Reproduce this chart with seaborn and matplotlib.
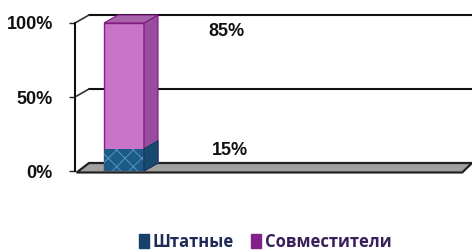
import numpy as np
import pandas as pd
import seaborn as sns
import matplotlib.pyplot as plt
from matplotlib.patches import Polygon, Patch

sns.set_theme(style="white")
plt.rcParams['font.family'] = ['Liberation Sans', 'DejaVu Sans']
plt.rcParams['hatch.linewidth'] = 0.8

# data
categories = ["Кадры"]
shtatnye = [15]
sovmestiteli = [85]
ticks = [0, 50, 100]
tick_labels = ["0%", "50%", "100%"]

df = pd.DataFrame({"cat": categories,
                   "Штатные": shtatnye,
                   "Совместители": sovmestiteli})
df["total"] = df["Штатные"] + df["Совместители"]

W, H = 472, 252
fig = plt.figure(figsize=(W / 100, H / 100), dpi=100)
ax = fig.add_axes([75 / W, (H - 171) / H, 397 / W, 148 / H])

purple_front = "#c874c8"
purple_side = "#9a4c9e"
purple_top = "#a862ac"
blue_front = "#1d5a86"
blue_side = "#164a70"

sns.barplot(data=df, x="cat", y="total", color=purple_front, width=0.5,
            saturation=1, ax=ax, edgecolor="#8b1a8b", linewidth=1)
sns.barplot(data=df, x="cat", y="Штатные", color=blue_front, width=0.5,
            saturation=1, ax=ax, edgecolor="#4a90c0", linewidth=0, hatch="xx")

ax.set_xlim(-0.6125, 4.35)
ax.set_ylim(0, 100)
ax.set_xlabel("")
ax.set_ylabel("")
ax.set_xticks([])
ax.set_yticks(ticks)
ax.set_yticklabels(tick_labels, fontsize=13, fontweight="bold", color="#111111")
ax.tick_params(axis="y", length=4, width=1, color="#222222", pad=12, left=True)
for s in ax.spines.values():
    s.set_visible(False)
ax.spines["left"].set_visible(True)
ax.spines["left"].set_color("#111111")
ax.spines["left"].set_linewidth(1.5)

# depth offsets (14 px right, 8 px up) in data units
xr = ax.get_xlim()[1] - ax.get_xlim()[0]
dx = 14 / 397 * xr
dy = 8 / 148 * 100
x0, x1 = ax.get_xlim()

# floor
floor = Polygon([(x0 + 0.02, -1), (x1 - dx * 0.7, -1), (x1, dy), (x0 + dx, dy)],
                closed=True, facecolor="#a0a0a0", edgecolor="#222222",
                linewidth=1.6, zorder=0.5, clip_on=False)
ax.add_patch(floor)

# back wall gridlines and connectors
for t in ticks[1:]:
    ax.plot([x0 + dx, x1], [t + dy, t + dy], color="#111111", lw=1.5,
            zorder=0.4, clip_on=False)
    ax.plot([x0, x0 + dx], [t, t + dy], color="#333333", lw=1.2,
            zorder=0.4, clip_on=False)

# 3D faces for the bar segments
bars = ax.patches[:]
segs = [(bars[0], purple_side, purple_top), (bars[1], blue_side, None)]
for p, side_c, top_c in segs:
    bx0, bw = p.get_x(), p.get_width()
    by0, bh = p.get_y(), p.get_height()
    bx1, by1 = bx0 + bw, by0 + bh
    ax.add_patch(Polygon([(bx1, by0), (bx1 + dx, by0 + dy), (bx1 + dx, by1 + dy), (bx1, by1)],
                         closed=True, facecolor=side_c, edgecolor="#7a1a7a" if top_c else "#0f3a5a",
                         linewidth=0.8, zorder=3, clip_on=False))
    if top_c:
        ax.add_patch(Polygon([(bx0, by1), (bx0 + dx, by1 + dy), (bx1 + dx, by1 + dy), (bx1, by1)],
                             closed=True, facecolor=top_c, edgecolor="#7a1a7a",
                             linewidth=0.8, zorder=3, clip_on=False))

# data labels
bx = bars[0].get_x() + bars[0].get_width() / 2
ax.text(bx + 1.28, df["total"][0] - 6, f"{sovmestiteli[0]}%", fontsize=13,
        fontweight="bold", ha="center", va="center", color="#111111")
ax.text(bx + 1.32, shtatnye[0] - 1, f"{shtatnye[0]}%", fontsize=13,
        fontweight="bold", ha="center", va="center", color="#111111")

# legend
handles = [Patch(facecolor="#17406a", edgecolor="#17406a"),
           Patch(facecolor="#84208a", edgecolor="#84208a")]
leg = fig.legend(handles, ["Штатные", "Совместители"], loc="center",
                 bbox_to_anchor=(265 / W, 1 - 242 / H), ncol=2, frameon=False,
                 handlelength=0.65, handleheight=0.9, handletextpad=0.2,
                 columnspacing=1.0,
                 prop={"family": ["Open Sans", "DejaVu Sans"], "weight": "bold", "size": 12})
for txt, c in zip(leg.get_texts(), ["#1f2a55", "#3a1f5a"]):
    txt.set_color(c)

fig.savefig("out.png", dpi=100)
